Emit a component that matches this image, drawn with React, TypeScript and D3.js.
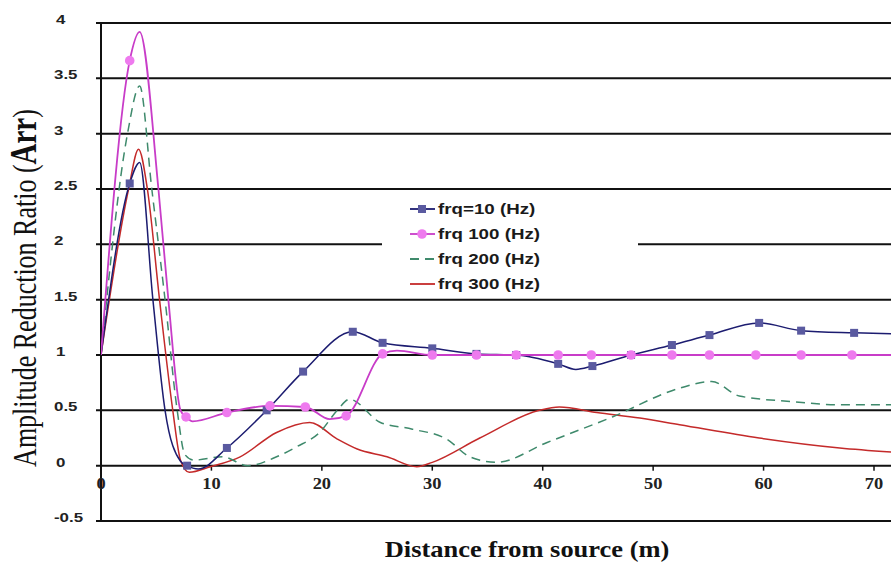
import React from 'react';
import * as d3 from 'd3';

// distances (m) and amplitude ratios
const frq10Dist = [0, 2.6, 3.5, 4.7, 5.8, 7.2, 7.8, 8.8, 11.4, 15.0, 18.3, 22.8, 25.5, 30, 34, 37.6, 41.4, 43, 44.5, 48, 51.7, 55.1, 59.6, 63.4, 68.2, 72];
const frq10Arr = [1, 2.55, 2.74, 1.5, 0.5, 0.04, 0, -0.03, 0.16, 0.5, 0.85, 1.21, 1.11, 1.06, 1.01, 1.0, 0.92, 0.87, 0.9, 1.0, 1.09, 1.18, 1.29, 1.22, 1.2, 1.19];
const frq10Marks = [2.6, 7.8, 11.4, 15.0, 18.3, 22.8, 25.5, 30, 34, 37.6, 41.4, 44.5, 48, 51.7, 55.1, 59.6, 63.4, 68.2];

const frq100Dist = [0, 2.6, 3.5, 5.2, 6.1, 7.2, 7.7, 8.3, 11.4, 15.3, 18.5, 20.7, 22.2, 25.5, 26.8, 30, 34, 37.6, 41.4, 44.4, 48, 51.7, 55.1, 59.3, 63.4, 68, 72];
const frq100Arr = [1, 3.66, 3.92, 2.5, 1.5, 0.5, 0.44, 0.4, 0.48, 0.54, 0.53, 0.42, 0.45, 1.01, 1.04, 1.0, 1.0, 1.0, 1.0, 1.0, 1.0, 1.0, 1.0, 1.0, 1.0, 1.0, 1.0];
const frq100Marks = [2.6, 7.7, 11.4, 15.3, 18.5, 22.2, 25.5, 30, 34, 37.6, 41.4, 44.4, 48, 51.7, 55.1, 59.3, 63.4, 68];

const frq200Dist = [0, 2.4, 3.5, 4.6, 5.8, 6.9, 7.6, 8.4, 11, 13.3, 15.9, 17.7, 19.8, 21.4, 22.5, 25.3, 28.2, 31.3, 33.4, 35.8, 40.4, 46.3, 52.4, 55.3, 57.8, 62.4, 66.9, 72];
const frq200Arr = [1, 3.0, 3.43, 2.5, 1.5, 0.5, 0.1, 0.05, 0.08, 0.0, 0.08, 0.17, 0.3, 0.5, 0.6, 0.39, 0.33, 0.24, 0.08, 0.03, 0.21, 0.44, 0.7, 0.76, 0.63, 0.58, 0.55, 0.55];

const frq300Dist = [0, 2.5, 3.4, 4.2, 5.3, 6.5, 7.2, 8, 9.9, 12.6, 15.9, 18.9, 21.4, 23.2, 25.9, 28.6, 30, 34.3, 39.7, 41.5, 44.9, 48.8, 52.4, 59.6, 66.9, 72];
const frq300Arr = [1, 2.5, 2.86, 2.5, 1.5, 0.5, 0.05, -0.06, -0.01, 0.08, 0.3, 0.39, 0.24, 0.15, 0.08, -0.01, 0.03, 0.25, 0.5, 0.53, 0.48, 0.43, 0.37, 0.25, 0.16, 0.12];

const yTicks = [-0.5, 0, 0.5, 1, 1.5, 2, 2.5, 3, 3.5, 4];
const xTicks = [0, 10, 20, 30, 40, 50, 60, 70];
const legendNames = ['frq=10 (Hz)', 'frq 100 (Hz)', 'frq 200 (Hz)', 'frq 300 (Hz)'];

const W = 891;
const H = 563;
// the source picture is stretched sideways, so text gets a horizontal scale
const SX = 1.25;

export default function App() {
  const x = d3.scaleLinear().domain([0, 70]).range([101, 874]);
  const y = d3.scaleLinear().domain([-0.5, 4]).range([521, 23]);

  const line = d3.line<[number, number]>()
    .x(d => x(d[0]))
    .y(d => y(d[1]))
    .curve(d3.curveMonotoneX);

  const zip = (a: number[], b: number[]) => a.map((v, i) => [v, b[i]] as [number, number]);
  const s10 = zip(frq10Dist, frq10Arr);
  const s100 = zip(frq100Dist, frq100Arr);
  const s200 = zip(frq200Dist, frq200Arr);
  const s300 = zip(frq300Dist, frq300Arr);
  const m10 = s10.filter(d => frq10Marks.includes(d[0]));
  const m100 = s100.filter(d => frq100Marks.includes(d[0]));

  const series = [
    { color: '#1c1c70', dash: null, marker: 'square' },
    { color: '#c83cc8', dash: null, marker: 'circle' },
    { color: '#3f8a6c', dash: '9,6', marker: null },
    { color: '#c42a2a', dash: null, marker: null },
  ];

  const sans = '"Liberation Sans", Arial, sans-serif';
  const serif = '"Liberation Serif", "Times New Roman", serif';

  return (
    <svg width={W} height={H} style={{ position: 'absolute', left: 0, top: 0, background: '#fff' }}>
      <defs>
        <clipPath id="plot">
          <rect x={x(0)} y={0} width={W - x(0)} height={y(-0.5) + 2} />
        </clipPath>
      </defs>

      {/* gridlines */}
      {yTicks.map(t => (
        <line key={t} x1={96} x2={W} y1={y(t)} y2={y(t)} stroke="#111" strokeWidth={2} />
      ))}
      <line x1={x(0)} x2={x(0)} y1={y(4)} y2={y(-0.5)} stroke="#111" strokeWidth={2} />

      {/* y tick labels */}
      {yTicks.map(t => (
        <text key={t} transform={`translate(${t === 1 || t === 4 || t === 0 ? 56 : 54},${y(t) + 1}) scale(${SX},1)`}
          fontFamily={sans} fontWeight="bold" fontSize={13.5} fill="#222">
          {t}
        </text>
      ))}

      {/* x ticks and labels along the zero line */}
      {xTicks.map(t => (
        <g key={t}>
          <line x1={x(t)} x2={x(t)} y1={y(0)} y2={y(0) + 5} stroke="#111" strokeWidth={1.5} />
          <text transform={`translate(${x(t)},${y(0) + 23}) scale(1.15,1)`} textAnchor="middle"
            fontFamily={serif} fontWeight="bold" fontSize={16} fill="#222">
            {t}
          </text>
        </g>
      ))}

      {/* legend box hides the gridline at 2 */}
      <rect x={382} y={194} width={256} height={102} fill="#fff" />

      <g clipPath="url(#plot)" fill="none">
        <path d={line(s300) ?? ''} stroke={series[3].color} strokeWidth={1.5} />
        <path d={line(s200) ?? ''} stroke={series[2].color} strokeWidth={1.5} strokeDasharray={series[2].dash!} />
        <path d={line(s10) ?? ''} stroke={series[0].color} strokeWidth={1.5} />
        <path d={line(s100) ?? ''} stroke={series[1].color} strokeWidth={1.8} />
        {m10.map((d, i) => (
          <rect key={i} x={x(d[0]) - 4} y={y(d[1]) - 4} width={8} height={8} fill="#5a5aa0" />
        ))}
        {m100.map((d, i) => (
          <circle key={i} cx={x(d[0])} cy={y(d[1])} r={4.8} fill="#ee7aee" />
        ))}
      </g>

      {/* legend */}
      {legendNames.map((name, i) => {
        const ly = 209 + i * 25;
        const s = series[i];
        return (
          <g key={name}>
            <line x1={410} x2={435} y1={ly} y2={ly} stroke={s.color} strokeWidth={1.8} strokeDasharray={s.dash ?? undefined} />
            {s.marker === 'square' && <rect x={418} y={ly - 4} width={8} height={8} fill="#5a5aa0" />}
            {s.marker === 'circle' && <circle cx={422} cy={ly} r={4.8} fill="#ee7aee" />}
            <text transform={`translate(438,${ly + 5}) scale(${SX},1)`} fontFamily={sans} fontWeight="bold" fontSize={15} fill="#1a1a1a">
              {name}
            </text>
          </g>
        );
      })}

      {/* axis titles */}
      <text
        transform={`translate(36,288) scale(1.3,1) rotate(-90)`}
        textAnchor="middle"
        fontFamily={serif}
        fontSize={26}
        fill="#111"
      >
        Amplitude Reduction Ratio (<tspan fontWeight="bold" fontSize={29}>Arr</tspan>)
      </text>
      <text transform="translate(527,557) scale(1.15,1)" textAnchor="middle" fontFamily={serif} fontWeight="bold" fontSize={23} fill="#111">
        Distance from source (m)
      </text>
    </svg>
  );
}
